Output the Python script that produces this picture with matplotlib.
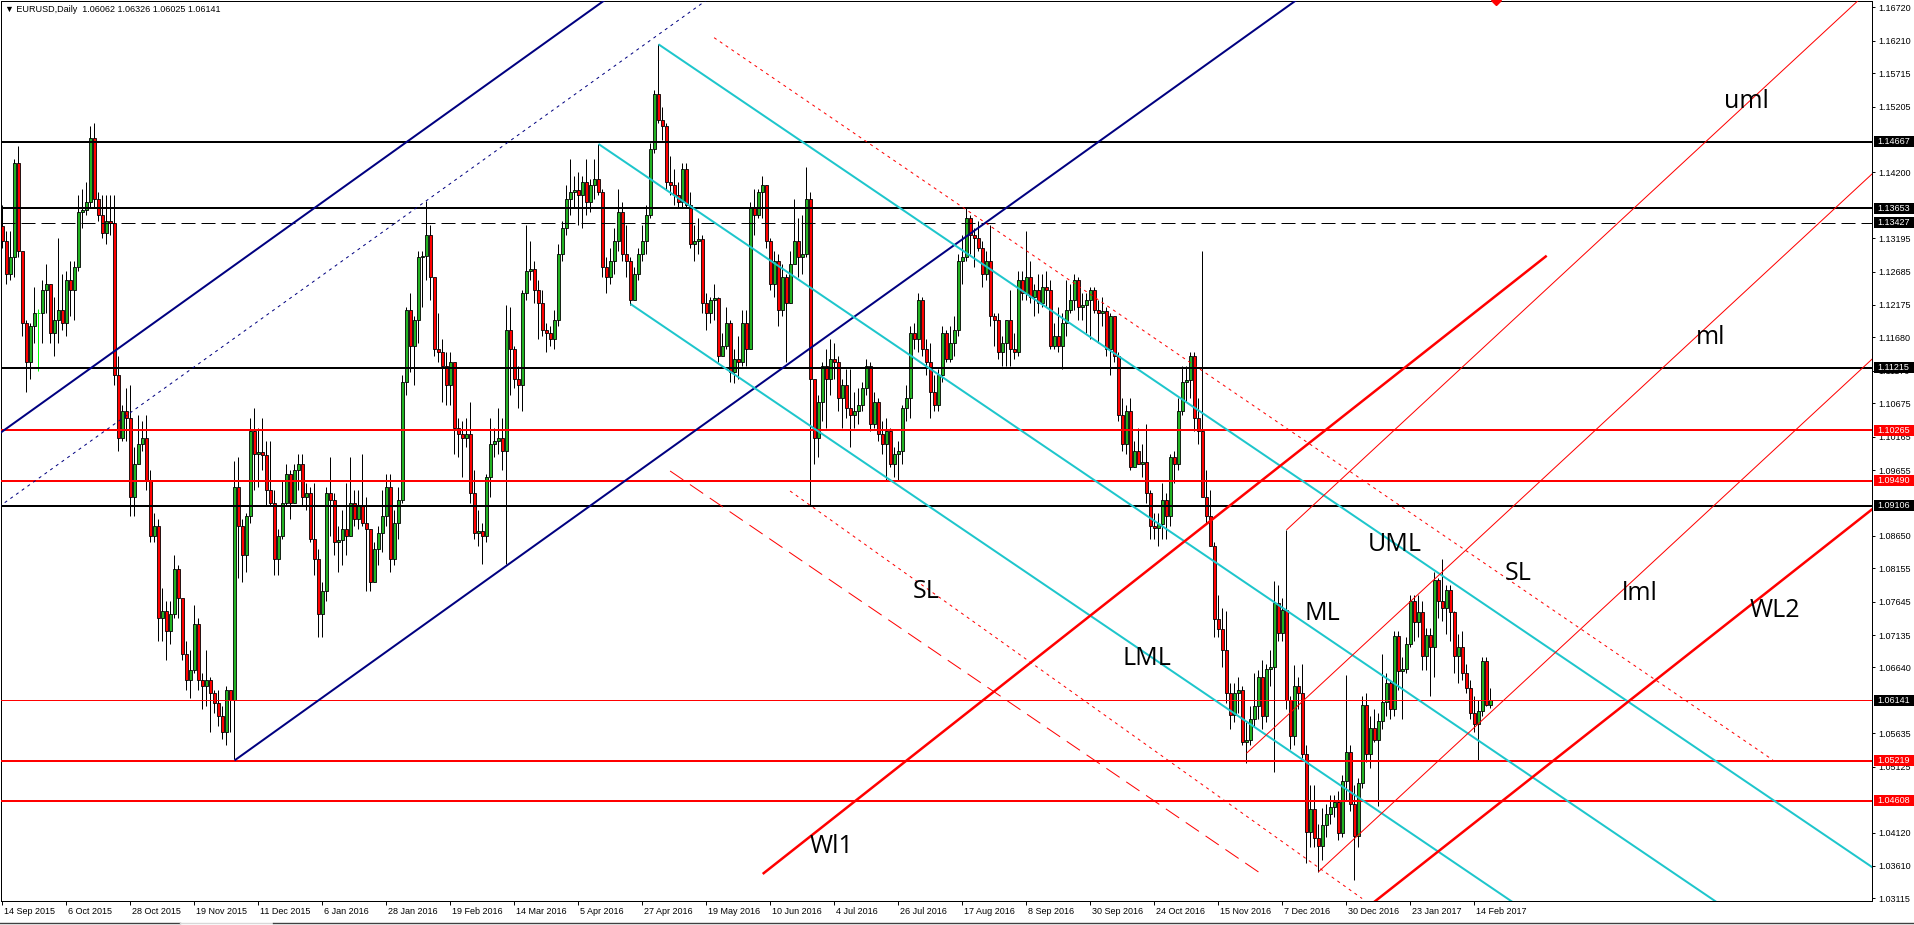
import matplotlib
matplotlib.use("Agg")
import matplotlib.pyplot as plt
import matplotlib.transforms as mtransforms
from matplotlib.patches import Rectangle, Polygon
from matplotlib.lines import Line2D
import numpy as np

# EURUSD daily candles, 14 Sep 2015 .. 20 Feb 2017 (one row per trading week)
first_open = 1.1338
highs = [
    1.1370, 1.1330, 1.1330, 1.1440, 1.1460,
    1.1290, 1.1195, 1.1190, 1.1245, 1.1212,
    1.1255, 1.1280, 1.1250, 1.1230, 1.1320,
    1.1265, 1.1270, 1.1285, 1.1285, 1.1385,
    1.1395, 1.1405, 1.1490, 1.1495, 1.1390,
    1.1385, 1.1385, 1.1385, 1.1385, 1.1140,
    1.1065, 1.1090, 1.1095, 1.1000, 1.1050,
    1.1040, 1.1050, 1.0965, 1.0900, 1.0890,
    1.0785, 1.0765, 1.0765, 1.0835, 1.0820,
    1.0745, 1.0705, 1.0690, 1.0760, 1.0740,
    1.0655, 1.0690, 1.0650, 1.0630, 1.0630,
    1.0605, 1.0635, 1.0630, 1.0980, 1.0985,
    1.0890, 1.0900, 1.1045, 1.1060, 1.1030,
    1.1045, 1.1010, 1.1010, 1.0935, 1.0875,
    1.0950, 1.0975, 1.0965, 1.0975,
    1.0990, 1.0990, 1.0945, 1.0940,
    # 2016
    1.0945, 1.0845, 1.0795, 1.0940, 1.0985,
    1.0930, 1.0880, 1.0905, 1.0945, 1.0985,
    1.0935, 1.0935, 1.0990, 1.0925, 1.0875,
    1.0855, 1.0880, 1.0935, 1.0960, 1.0960,
    1.0905, 1.0940, 1.1110, 1.1215, 1.1235,
    1.1200, 1.1300, 1.1300, 1.1376, 1.1340,
    1.1255, 1.1205, 1.1165, 1.1145, 1.1145,
    1.1075, 1.1045, 1.1040, 1.1045, 1.1070,
    1.0965, 1.0905, 1.0885, 1.0960, 1.1045,
    1.1030, 1.1060, 1.1045, 1.1218, 1.1215,
    1.1155, 1.1125, 1.1240, 1.1340, 1.1315,
    1.1285, 1.1255, 1.1240, 1.1190, 1.1185,
    1.1210, 1.1310, 1.1345, 1.1400, 1.1440,
    1.1415, 1.1420, 1.1415, 1.1440, 1.1410,
    1.1440, 1.1464, 1.1395, 1.1290, 1.1305,
    1.1335, 1.1395, 1.1375, 1.1340, 1.1290,
    1.1275, 1.1305, 1.1340, 1.1370, 1.1465,
    1.1545, 1.1616, 1.1520, 1.1495, 1.1445,
    1.1425, 1.1405, 1.1435, 1.1435, 1.1390,
    1.1340, 1.1350, 1.1325, 1.1235, 1.1230,
    1.1250, 1.1230, 1.1175, 1.1215, 1.1195,
    1.1150, 1.1170, 1.1210, 1.1210, 1.1375,
    1.1395, 1.1395, 1.1415, 1.1400, 1.1320,
    1.1300, 1.1295, 1.1280, 1.1265, 1.1300,
    1.1380, 1.1350, 1.1355, 1.1428, 1.1390,
    1.1080, 1.1080, 1.1130, 1.1150, 1.1165,
    1.1160, 1.1140, 1.1105, 1.1120, 1.1120,
    1.1085, 1.1090, 1.1100, 1.1135, 1.1130,
    1.1085, 1.1075, 1.1040, 1.1045, 1.1030,
    1.1000, 1.1010, 1.1065, 1.1095, 1.1185,
    1.1190, 1.1235, 1.1230, 1.1165, 1.1160,
    1.1110, 1.1120, 1.1185, 1.1180, 1.1185,
    1.1200, 1.1295, 1.1325, 1.1366, 1.1355,
    1.1335, 1.1345, 1.1315, 1.1300, 1.1340,
    1.1205, 1.1205, 1.1170, 1.1195, 1.1240,
    1.1175, 1.1270, 1.1270, 1.1330, 1.1285,
    1.1250, 1.1265, 1.1265, 1.1270, 1.1255,
    1.1190, 1.1215, 1.1205, 1.1255, 1.1250,
    1.1265, 1.1260, 1.1235, 1.1235, 1.1245,
    1.1245, 1.1225, 1.1230, 1.1215, 1.1205,
    1.1190, 1.1145, 1.1075, 1.1065, 1.1075,
    1.1010, 1.1030, 1.1005, 1.1035, 1.0935,
    1.0900, 1.0900, 1.0945, 1.0930, 1.0990,
    1.0995, 1.1075, 1.1125, 1.1125, 1.1145,
    1.1145, 1.1075, 1.1300, 1.0965, 1.0935,
    1.0855, 1.0775, 1.0755, 1.0750, 1.0640,
    1.0640, 1.0650, 1.0635, 1.0580, 1.0605,
    1.0655, 1.0660, 1.0675, 1.0670, 1.0690,
    1.0796, 1.0790, 1.0770, 1.0874, 1.0620,
    1.0667, 1.0650, 1.0670, 1.0545, 1.0485,
    1.0485, 1.0425, 1.0450, 1.0455, 1.0470,
    1.0470, 1.0475, 1.0500, 1.0653,
    # 2017
    1.0545, 1.0485, 1.0495, 1.0620, 1.0625,
    1.0590, 1.0600, 1.0595, 1.0685, 1.0655,
    1.0645, 1.0720, 1.0720, 1.0680, 1.0710,
    1.0775, 1.0775, 1.0775, 1.0765, 1.0725,
    1.0725, 1.0810, 1.0800, 1.0829, 1.0790,
    1.0790, 1.0750, 1.0715, 1.0720, 1.0670,
    1.0645, 1.0620, 1.0615, 1.0680, 1.0680,
    1.06326,
]
lows = [
    1.1305, 1.1250, 1.1255, 1.1260, 1.1290,
    1.1170, 1.1085, 1.1105, 1.1160, 1.1116,
    1.1160, 1.1205, 1.1160, 1.1140, 1.1160,
    1.1180, 1.1170, 1.1200, 1.1195, 1.1270,
    1.1335, 1.1355, 1.1365, 1.1365, 1.1345,
    1.1320, 1.1310, 1.1325, 1.1095, 1.0995,
    1.1010, 1.1010, 1.0895, 1.0895, 1.0975,
    1.0995, 1.0935, 1.0855, 1.0855, 1.0705,
    1.0705, 1.0675, 1.0700, 1.0740, 1.0740,
    1.0675, 1.0630, 1.0617, 1.0655, 1.0630,
    1.0600, 1.0605, 1.0565, 1.0595, 1.0575,
    1.0555, 1.0545, 1.0565, 1.0524, 1.0800,
    1.0795, 1.0810, 1.0885, 1.0935, 1.0940,
    1.0965, 1.0910, 1.0910, 1.0805, 1.0805,
    1.0860, 1.0910, 1.0890, 1.0915,
    1.0935, 1.0910, 1.0905, 1.0855,
    # 2016
    1.0805, 1.0710, 1.0710, 1.0765, 1.0865,
    1.0835, 1.0810, 1.0820, 1.0835, 1.0865,
    1.0880, 1.0875, 1.0880, 1.0780, 1.0780,
    1.0795, 1.0820, 1.0840, 1.0880, 1.0810,
    1.0820, 1.0860, 1.0915, 1.1080, 1.1115,
    1.1095, 1.1160, 1.1215, 1.1255, 1.1225,
    1.1140, 1.1130, 1.1070, 1.1065, 1.1065,
    1.0990, 1.0985, 1.0955, 1.1000, 1.0915,
    1.0860, 1.0850, 1.0822, 1.0855, 1.0925,
    1.0985, 1.0990, 1.0965, 1.0822, 1.1080,
    1.1090, 1.1060, 1.1055, 1.1225, 1.1255,
    1.1220, 1.1165, 1.1170, 1.1145, 1.1155,
    1.1150, 1.1185, 1.1285, 1.1325, 1.1355,
    1.1365, 1.1340, 1.1335, 1.1355, 1.1360,
    1.1380, 1.1385, 1.1260, 1.1235, 1.1250,
    1.1265, 1.1300, 1.1285, 1.1260, 1.1217,
    1.1225, 1.1255, 1.1285, 1.1295, 1.1350,
    1.1450, 1.1495, 1.1470, 1.1395, 1.1385,
    1.1370, 1.1365, 1.1365, 1.1365, 1.1305,
    1.1285, 1.1295, 1.1205, 1.1180, 1.1190,
    1.1195, 1.1130, 1.1140, 1.1150, 1.1100,
    1.1098, 1.1105, 1.1125, 1.1125, 1.1150,
    1.1325, 1.1350, 1.1350, 1.1305, 1.1240,
    1.1230, 1.1185, 1.1200, 1.1130, 1.1220,
    1.1290, 1.1260, 1.1265, 1.1290, 1.0912,
    1.0975, 1.0985, 1.1040, 1.1030, 1.1080,
    1.1105, 1.1055, 1.1030, 1.1045, 1.1000,
    1.1030, 1.1035, 1.1055, 1.1080, 1.1025,
    1.1030, 1.1010, 1.0990, 1.0950, 1.0970,
    1.0955, 1.0950, 1.0975, 1.1040, 1.1045,
    1.1150, 1.1145, 1.1140, 1.1110, 1.1045,
    1.1055, 1.1055, 1.1100, 1.1130, 1.1130,
    1.1140, 1.1170, 1.1250, 1.1285, 1.1295,
    1.1275, 1.1300, 1.1245, 1.1255, 1.1185,
    1.1155, 1.1135, 1.1125, 1.1125, 1.1125,
    1.1135, 1.1140, 1.1225, 1.1225, 1.1220,
    1.1200, 1.1205, 1.1215, 1.1215, 1.1150,
    1.1150, 1.1145, 1.1120, 1.1170, 1.1205,
    1.1210, 1.1195, 1.1195, 1.1175, 1.1165,
    1.1205, 1.1160, 1.1185, 1.1140, 1.1110,
    1.1130, 1.1040, 1.0995, 1.0990, 1.0965,
    1.0970, 1.0975, 1.0955, 1.0915, 1.0860,
    1.0860, 1.0850, 1.0860, 1.0860, 1.0880,
    1.0945, 1.0965, 1.1050, 1.1070, 1.1075,
    1.1025, 1.1005, 1.0995, 1.0885, 1.0850,
    1.0710, 1.0710, 1.0665, 1.0610, 1.0570,
    1.0580, 1.0595, 1.0545, 1.0518, 1.0545,
    1.0575, 1.0585, 1.0570, 1.0580, 1.0635,
    1.0505, 1.0705, 1.0705, 1.0600, 1.0540,
    1.0545, 1.0600, 1.0525, 1.0366, 1.0390,
    1.0390, 1.0352, 1.0370, 1.0405, 1.0425,
    1.0435, 1.0400, 1.0405, 1.0460,
    # 2017
    1.0445, 1.0339, 1.0390, 1.0480, 1.0520,
    1.0510, 1.0550, 1.0453, 1.0570, 1.0590,
    1.0585, 1.0590, 1.0630, 1.0585, 1.0655,
    1.0695, 1.0705, 1.0710, 1.0660, 1.0660,
    1.0620, 1.0650, 1.0740, 1.0735, 1.0715,
    1.0705, 1.0655, 1.0640, 1.0645, 1.0625,
    1.0585, 1.0565, 1.0521, 1.0590, 1.0605,
    1.06025,
]
closes = [
    1.1315, 1.1265, 1.1290, 1.1435, 1.1300,
    1.1190, 1.1130, 1.1185, 1.1205, 1.1205,
    1.1240, 1.1250, 1.1175, 1.1195, 1.1210,
    1.1190, 1.1255, 1.1240, 1.1275, 1.1360,
    1.1363, 1.1375, 1.1472, 1.1380, 1.1355,
    1.1328, 1.1345, 1.1343, 1.1110, 1.1015,
    1.1055, 1.1045, 1.0925, 1.0975, 1.1005,
    1.1015, 1.0950, 1.0865, 1.0880, 1.0740,
    1.0750, 1.0720, 1.0745, 1.0815, 1.0770,
    1.0685, 1.0645, 1.0660, 1.0730, 1.0645,
    1.0635, 1.0645, 1.0625, 1.0610, 1.0590,
    1.0565, 1.0630, 1.0615, 1.0940, 1.0880,
    1.0835, 1.0895, 1.1025, 1.0990, 1.0993,
    1.0988, 1.0935, 1.0915, 1.0830, 1.0865,
    1.0915, 1.0960, 1.0915, 1.0965,
    1.0975, 1.0925, 1.0930, 1.0860,
    # 2016
    1.0830, 1.0745, 1.0780, 1.0930, 1.0920,
    1.0855, 1.0858, 1.0875, 1.0865, 1.0915,
    1.0890, 1.0910, 1.0885, 1.0875, 1.0795,
    1.0845, 1.0870, 1.0895, 1.0940, 1.0830,
    1.0885, 1.0920, 1.1100, 1.1210, 1.1155,
    1.1195, 1.1290, 1.1293, 1.1325, 1.1260,
    1.1150, 1.1145, 1.1125, 1.1095, 1.1130,
    1.1030, 1.1020, 1.1015, 1.1020, 1.0930,
    1.0870, 1.0873, 1.0865, 1.0955, 1.1005,
    1.1010, 1.1015, 1.0995, 1.1180, 1.1150,
    1.1105, 1.1095, 1.1235, 1.1270, 1.1273,
    1.1240, 1.1220, 1.1180, 1.1175, 1.1165,
    1.1195, 1.1295, 1.1335, 1.1380, 1.1390,
    1.1393, 1.1385, 1.1405, 1.1375, 1.1400,
    1.1410, 1.1390, 1.1275, 1.1260, 1.1285,
    1.1315, 1.1360, 1.1295, 1.1285, 1.1225,
    1.1265, 1.1295, 1.1315, 1.1355, 1.1455,
    1.1540, 1.1500, 1.1490, 1.1405, 1.1400,
    1.1385, 1.1375, 1.1425, 1.1370, 1.1310,
    1.1315, 1.1318, 1.1220, 1.1205, 1.1225,
    1.1228, 1.1140, 1.1155, 1.1190, 1.1115,
    1.1135, 1.1130, 1.1190, 1.1150, 1.1365,
    1.1355, 1.1390, 1.1400, 1.1315, 1.1250,
    1.1285, 1.1210, 1.1260, 1.1220, 1.1280,
    1.1315, 1.1290, 1.1295, 1.1380, 1.1105,
    1.1015, 1.1070, 1.1125, 1.1105, 1.1135,
    1.1130, 1.1075, 1.1095, 1.1060, 1.1050,
    1.1055, 1.1065, 1.1090, 1.1125, 1.1035,
    1.1070, 1.1020, 1.1005, 1.1025, 1.0975,
    1.0990, 1.0995, 1.1060, 1.1075, 1.1175,
    1.1165, 1.1225, 1.1150, 1.1130, 1.1085,
    1.1065, 1.1110, 1.1175, 1.1135, 1.1160,
    1.1180, 1.1285, 1.1290, 1.1350, 1.1325,
    1.1320, 1.1305, 1.1265, 1.1285, 1.1200,
    1.1195, 1.1145, 1.1160, 1.1195, 1.1150,
    1.1145, 1.1255, 1.1235, 1.1260, 1.1230,
    1.1240, 1.1220, 1.1245, 1.1240, 1.1155,
    1.1170, 1.1155, 1.1190, 1.1210, 1.1225,
    1.1255, 1.1215, 1.1218, 1.1225, 1.1240,
    1.1210, 1.1205, 1.1208, 1.1150, 1.1200,
    1.1140, 1.1050, 1.1005, 1.1055, 1.0970,
    1.0995, 1.0975, 1.0978, 1.0930, 1.0880,
    1.0877, 1.0883, 1.0920, 1.0895, 1.0985,
    1.0975, 1.1055, 1.1100, 1.1103, 1.1140,
    1.1045, 1.1025, 1.0925, 1.0895, 1.0850,
    1.0738, 1.0722, 1.0690, 1.0625, 1.0592,
    1.0625, 1.0630, 1.0550, 1.0553, 1.0585,
    1.0605, 1.0650, 1.0590, 1.0662, 1.0665,
    1.0763, 1.0716, 1.0751, 1.0614, 1.0560,
    1.0635, 1.0625, 1.0532, 1.0413, 1.0448,
    1.0403, 1.0392, 1.0424, 1.0440, 1.0451,
    1.0459, 1.0411, 1.0490, 1.0535,
    # 2017
    1.0456, 1.0406, 1.0488, 1.0607, 1.0532,
    1.0572, 1.0554, 1.0582, 1.0612, 1.0641,
    1.0601, 1.0712, 1.0659, 1.0661, 1.0700,
    1.0765, 1.0733, 1.0749, 1.0681, 1.0714,
    1.0696, 1.0797, 1.0765, 1.0755, 1.0782,
    1.0748, 1.0682, 1.0696, 1.0656, 1.0632,
    1.0595, 1.0577, 1.0598, 1.0674, 1.0606,
    1.06141,
]

date_labels = ["14 Sep 2015", "6 Oct 2015", "28 Oct 2015", "19 Nov 2015", "11 Dec 2015",
               "6 Jan 2016", "28 Jan 2016", "19 Feb 2016", "14 Mar 2016", "5 Apr 2016",
               "27 Apr 2016", "19 May 2016", "10 Jun 2016", "4 Jul 2016", "26 Jul 2016",
               "17 Aug 2016", "8 Sep 2016", "30 Sep 2016", "24 Oct 2016", "15 Nov 2016",
               "7 Dec 2016", "30 Dec 2016", "23 Jan 2017", "14 Feb 2017"]
bars_per_label = 16

price_ticks = [1.16720, 1.16210, 1.15715, 1.15205, 1.14200, 1.13195, 1.12685, 1.12175,
               1.11680, 1.11170, 1.10675, 1.10165, 1.09655, 1.08650, 1.08155, 1.07645,
               1.07135, 1.06640, 1.05635, 1.05125, 1.04120, 1.03610, 1.03115]

black_levels = [1.14667, 1.13653, 1.11215, 1.09106]
dashed_levels = [1.13427]
red_levels = [1.10265, 1.09490, 1.05219, 1.04608]
bid_price = 1.06141

# trend lines: (bar0, price0, bar1, price1)
navy_lines = [(-1, 1.10202, 160, 1.17242), (58, 1.05220, 330, 1.17115)]
navy_dotted = [(-1, 1.09089, 180, 1.17004)]
cyan_lines = [(164, 1.16155, 470, 1.03484), (149, 1.14633, 470, 1.01340),
              (157, 1.12190, 470, 0.99229)]
red_dotted = [(177.9, 1.16256, 442.6, 1.05227), (196.9, 1.09334, 339.9, 1.03112)]
red_dashed = [(166.9, 1.09640, 315.1, 1.03471)]
warning_lines = [(190.05, 1.03487, 386.05, 1.12927), (340, 1.02919, 480, 1.09662)]
fork_lines = [(321, 1.0874, 480, 1.17733), (311, 1.0533, 480, 1.14889),
              (329, 1.0352, 480, 1.12061)]

note_texts = ["uml", "ml", "lml", "WL2", "SL", "UML", "ML", "LML", "SL", "Wl1"]
note_bars = [430.4, 423.4, 404.9, 436.9, 375.6, 341.4, 325.6, 279.9, 227.6, 201.9]
note_prices = [1.15182, 1.11579, 1.07670, 1.07415, 1.07975, 1.08418, 1.07365,
               1.06678, 1.07701, 1.03811]

W, H = 1915, 925
GREEN = "#22b222"
LIME = "#00ff00"
NAVY = "#000080"
CYAN = "#1ec6cc"
RED = "#ff0000"
PX = 0.72  # one screen pixel in points

fig = plt.figure(figsize=(W / 100, H / 100), dpi=100)
fig.patch.set_facecolor("white")
ax = fig.add_axes([1 / W, 24 / H, 1871 / W, 900.5 / H])
ax.set_facecolor("white")

# candles
opens = np.array([first_open] + closes[:-1])
c = np.array(closes)
hi = np.array(highs)
lo = np.array(lows)
x = np.arange(len(c))
doji = np.isclose(c, opens, atol=1e-6)
ax.vlines(x[~doji], lo[~doji], hi[~doji], color="black", lw=PX, zorder=2)
ax.vlines(x[doji], lo[doji], hi[doji], color=LIME, lw=PX, zorder=2)
ax.hlines(c[doji], x[doji] - 0.4, x[doji] + 0.4, color=LIME, lw=PX, zorder=2)
up = (c > opens) & ~doji
dn = (c < opens) & ~doji
ax.bar(x[up], c[up] - opens[up], bottom=opens[up], width=0.6, color=GREEN,
       edgecolor="black", linewidth=0.6, zorder=2.5)
ax.bar(x[dn], c[dn] - opens[dn], bottom=opens[dn], width=0.6, color=RED,
       edgecolor="black", linewidth=0.6, zorder=2.5)

# horizontal levels
for lvl in black_levels:
    ax.axhline(lvl, color="black", lw=2 * PX, zorder=3)
for lvl in dashed_levels:
    ax.axhline(lvl, color="black", lw=PX, dashes=(14, 6), zorder=3)
for lvl in red_levels:
    ax.axhline(lvl, color=RED, lw=2 * PX, zorder=3)
ax.axhline(bid_price, color=RED, lw=PX, zorder=3)


def draw_lines(lines, **kw):
    for b0, p0, b1, p1 in lines:
        ax.plot([b0, b1], [p0, p1], zorder=3, solid_capstyle="butt", **kw)


draw_lines(navy_lines, color=NAVY, lw=2 * PX)
draw_lines(navy_dotted, color=NAVY, lw=PX, dashes=(3, 4))
draw_lines(cyan_lines, color=CYAN, lw=2 * PX)
draw_lines(red_dotted, color=RED, lw=PX, dashes=(3, 4))
draw_lines(red_dashed, color=RED, lw=PX, dashes=(16, 8))
draw_lines(warning_lines, color=RED, lw=2.5 * PX)
draw_lines(fork_lines, color=RED, lw=PX)

for t, b, p in zip(note_texts, note_bars, note_prices):
    ax.text(b, p, t, fontsize=18, family="Open Sans", color="black",
            ha="left", va="baseline", zorder=6)

ax.set_xlim(-0.375, 467.375)
ax.set_ylim(1.030741, 1.168238)

# right price scale
ax.yaxis.tick_right()
ax.set_yticks(price_ticks)
ax.set_yticklabels([f"{v:.5f}" for v in price_ticks], fontsize=6.5,
                   family="Liberation Sans")
ax.tick_params(axis="y", length=2.5, width=0.7, pad=2, direction="out")

# highlighted price labels
lab_tr = mtransforms.blended_transform_factory(fig.transFigure, ax.transData)
ppx = (1.168238 - 1.030741) / 900.5
for levels, fc in [(black_levels + dashed_levels + [bid_price], "black"), (red_levels, RED)]:
    for lvl in levels:
        ax.add_patch(Rectangle((1874 / W, lvl - 5.5 * ppx), (W - 1874) / W, 11 * ppx,
                               transform=lab_tr, facecolor=fc, edgecolor="none",
                               clip_on=False, zorder=7))
        ax.text(1877 / W, lvl, f"{lvl:.5f}", transform=lab_tr, color="white",
                fontsize=6.5, family="Liberation Sans", ha="left", va="center",
                clip_on=False, zorder=8)

# bottom date scale
tick_bars = [i * bars_per_label for i in range(len(date_labels))]
ax.set_xticks(tick_bars)
ax.set_xticklabels([])
ax.tick_params(axis="x", length=3, width=0.7, direction="out")
date_tr = mtransforms.offset_copy(
    mtransforms.blended_transform_factory(ax.transData, fig.transFigure),
    fig=fig, x=1.5, y=0, units="dots")
for b, lab in zip(tick_bars, date_labels):
    ax.text(b, 11 / H, lab, transform=date_tr, fontsize=6.5, family="Liberation Sans",
            ha="left", va="baseline", clip_on=False)

for sp in ax.spines.values():
    sp.set_linewidth(PX)
    sp.set_color("black")

# header, chart-shift marker and the tab strip edge at the very bottom
fig.text(5 / W, 1 - 12 / H, "\u25bc EURUSD,Daily  1.06062 1.06326 1.06025 1.06141",
         fontsize=6.5, family=["Liberation Sans", "DejaVu Sans"], color="black",
         ha="left", va="baseline")
fig.add_artist(Polygon([(1491.5 / W, 1 - 0.5 / H), (1501.5 / W, 1 - 0.5 / H),
                        (1496.5 / W, 1 - 5.5 / H)], closed=True, facecolor=RED,
                       edgecolor=RED, transform=fig.transFigure))
fig.add_artist(Line2D([0, 180 / W], [2 / H, 2 / H], color="#404040", lw=1.0,
                      transform=fig.transFigure))
fig.add_artist(Line2D([180 / W, 273 / W], [2 / H, 2 / H], color="#d8d8d8", lw=1.0,
                      transform=fig.transFigure))
fig.add_artist(Line2D([273 / W, 1], [2 / H, 2 / H], color="#404040", lw=1.0,
                      transform=fig.transFigure))

fig.savefig("out.png", dpi=100, facecolor="white")
